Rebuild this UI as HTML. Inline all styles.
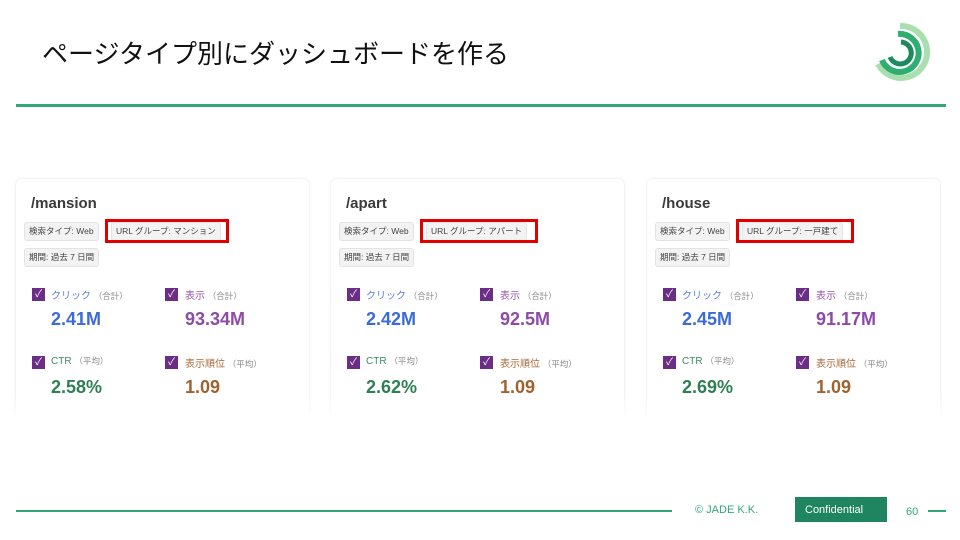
<!DOCTYPE html>
<html><head><meta charset="utf-8"><style>
body{margin:0;width:960px;height:540px;background:#fff;position:relative;overflow:hidden;font-family:"Liberation Sans","Noto Sans CJK JP",sans-serif}
.a{position:absolute}
.card{position:absolute;top:179px;width:293px;height:240px;background:#fff;border-radius:6px;box-shadow:0 0 3px rgba(0,0,0,.12)}
.fade{position:absolute;left:0;top:395px;width:960px;height:40px;background:linear-gradient(rgba(255,255,255,0),#fff 60%)}
.title{position:absolute;left:15px;top:16px;font-size:15px;font-weight:bold;color:#3a3a3a}
.chip{position:absolute;height:17px;line-height:17px;padding:0 4px;background:#f3f3f3;border:1px solid #e3e3e3;border-radius:3px;font-size:8.5px;color:#444;white-space:nowrap}
.red{position:absolute;border:3px solid #e00000;box-sizing:border-box}
.cb{position:absolute;width:13px;height:13px;background:#6b2d86;color:#fff;font-size:10px;line-height:13px;text-align:center}
.lbl{position:absolute;font-size:10px;white-space:nowrap}
.lbl span{color:#888;font-size:8.5px}
.val{position:absolute;font-size:18px;font-weight:bold}
</style></head><body>
<div class="a" style="left:42px;top:34px;font-size:26px;color:#111">ページタイプ別にダッシュボードを作る</div>
<svg class="a" style="left:868px;top:20px" width="64" height="64" viewBox="0 0 64 64">
<path d="M32 6 A26 26 0 1 1 10 44" fill="none" stroke="#a9dfae" stroke-width="6"/>
<path d="M30 14 A19 19 0 1 1 14 40" fill="none" stroke="#2fae72" stroke-width="6"/>
<path d="M33 22 A11 11 0 1 1 22 37" fill="none" stroke="#1c8a5c" stroke-width="5"/>
</svg>
<div class="a" style="left:16px;top:104px;width:930px;height:3px;background:#2ea878"></div>

<div id="cards"></div>
<div class="fade"></div>

<div class="a" style="left:16px;top:510px;width:656px;height:2px;background:#2ea878"></div>
<div class="a" style="left:695px;top:504px;font-size:11px;color:#2ea878">© JADE K.K.</div>
<div class="a" style="left:795px;top:497px;width:92px;height:25px;background:#1e8560;color:#fff;font-size:11px;line-height:27px;box-sizing:border-box;padding-left:10px">Confidential</div>
<div class="a" style="left:906px;top:506px;font-size:11px;color:#2ea878">60</div>
<div class="a" style="left:928px;top:510px;width:18px;height:2px;background:#2ea878"></div>

<script>
const paths=["/mansion","/apart","/house"];
const groups=["マンション","アパート","一戸建て"];
const clicks=["2.41M","2.42M","2.45M"];
const imps=["93.34M","92.5M","91.17M"];
const ctrs=["2.58%","2.62%","2.69%"];
const poss=["1.09","1.09","1.09"];
const lefts=[16,331,647];
const redW=[124,118,118];
const root=document.getElementById('cards');
paths.forEach((p,i)=>{
 const c=document.createElement('div');c.className='card';c.style.left=lefts[i]+'px';
 
 
 c.innerHTML=`<div class="title">${p}</div>
 <div class="chip" style="left:8px;top:43px">検索タイプ: Web</div>
 <div class="chip" style="left:95px;top:43px">URL グループ: ${groups[i]}</div>
 <div class="red" style="left:89px;top:40px;width:${redW[i]}px;height:24px"></div>
 <div class="chip" style="left:8px;top:69px">期間: 過去 7 日間</div>
 <div class="cb" style="left:16px;top:109px">✓</div>
 <div class="lbl" style="left:35px;top:108px;color:#5b7fd9">クリック <span>（合計）</span></div>
 <div class="val" style="left:35px;top:130px;color:#3a6bd6">${clicks[i]}</div>
 <div class="cb" style="left:149px;top:109px">✓</div>
 <div class="lbl" style="left:169px;top:108px;color:#9a55b0">表示 <span>（合計）</span></div>
 <div class="val" style="left:169px;top:130px;color:#8d4aa6">${imps[i]}</div>
 <div class="cb" style="left:16px;top:177px">✓</div>
 <div class="lbl" style="left:35px;top:176px;color:#3d8a63">CTR <span>（平均）</span></div>
 <div class="val" style="left:35px;top:198px;color:#2f7f55">${ctrs[i]}</div>
 <div class="cb" style="left:149px;top:177px">✓</div>
 <div class="lbl" style="left:169px;top:176px;color:#a8693a">表示順位 <span>（平均）</span></div>
 <div class="val" style="left:169px;top:198px;color:#a0622f">${poss[i]}</div>`;
 root.appendChild(c);
});
</script>
</body></html>
